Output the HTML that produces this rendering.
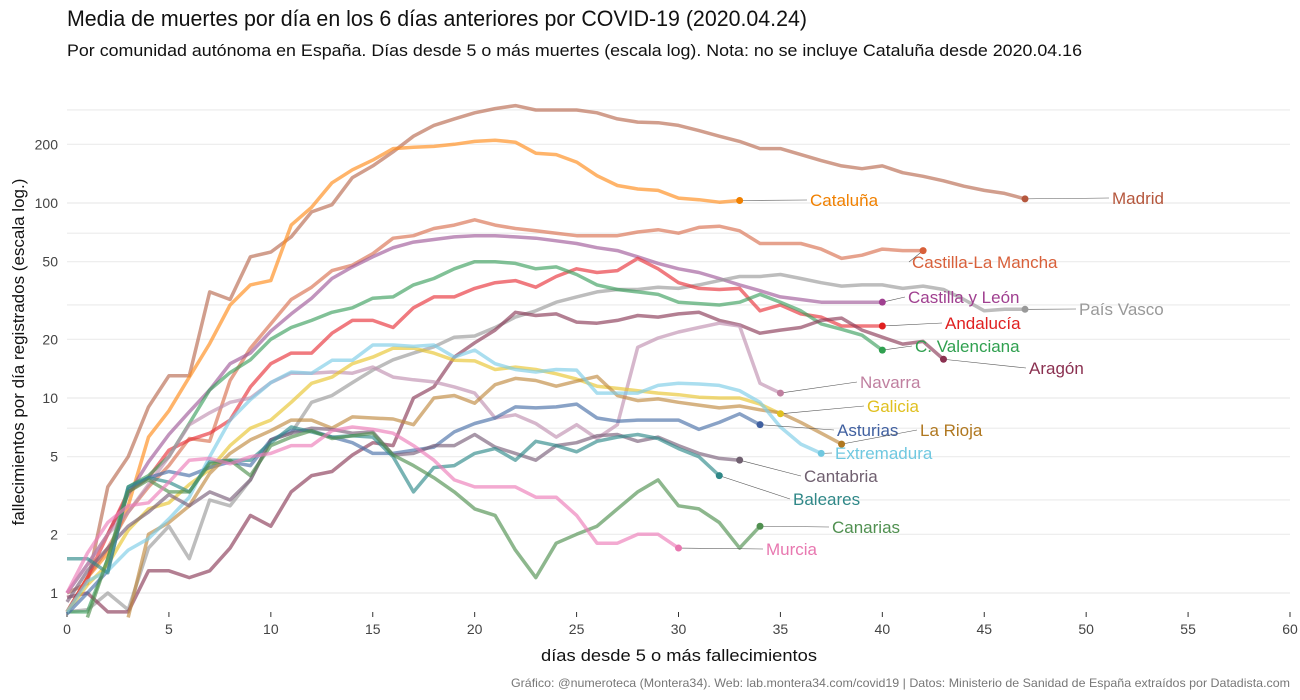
<!DOCTYPE html>
<html><head><meta charset="utf-8"><style>
body{margin:0;background:#fff;}
svg{display:block;font-family:"Liberation Sans Narrow","Liberation Sans",sans-serif;}
</style></head><body>
<svg id="chart" width="1300" height="700" xmlns="http://www.w3.org/2000/svg">
<text x="67" y="26" font-size="22" fill="#111" textLength="740" lengthAdjust="spacingAndGlyphs">Media de muertes por día en los 6 días anteriores por COVID-19 (2020.04.24)</text>
<text x="67" y="56" font-size="17" fill="#111" textLength="1015" lengthAdjust="spacingAndGlyphs">Por comunidad autónoma en España. Días desde 5 o más muertes (escala log). Nota: no se incluye Cataluña desde 2020.04.16</text>
<g id="grid"></g>
<g id="series"></g>
<g id="labels"></g>
<text transform="translate(24,352) rotate(-90)" text-anchor="middle" font-size="17" fill="#111">fallecimientos por día registrados (escala log.)</text>
<text x="541" y="661" font-size="17" fill="#111" textLength="276" lengthAdjust="spacingAndGlyphs">días desde 5 o más fallecimientos</text>
<text x="511" y="687" font-size="12" fill="#777" textLength="779" lengthAdjust="spacingAndGlyphs">Gráfico: @numeroteca (Montera34). Web: lab.montera34.com/covid19 | Datos: Ministerio de Sanidad de España extraídos por Datadista.com</text>
</svg>
<script>
const xTicks=[0,5,10,15,20,25,30,35,40,45,50,55,60];
const yTicks=[1,2,5,10,20,50,100,200];
const yGrid=[1,2,3,5,7,10,20,30,50,70,100,200,300];
const names=["Madrid","Cataluña","Castilla-La Mancha","Castilla y León","País Vasco","Andalucía","C. Valenciana","Aragón","Navarra","Galicia","Asturias","La Rioja","Extremadura","Cantabria","Baleares","Canarias","Murcia"];
const colors=["#b86a50","#ff8c1a","#d87050","#a05a9a","#999999","#e8333a","#3ea060","#8a3a58","#c090b0","#e8c430","#4a70a8","#c08a40","#7ccde6","#7a607a","#2f8a8a","#509050","#ec7cb8"];
const labelColors=["#b5573d","#f08000","#d8603a","#a04090","#999999","#e02020","#30a050","#8a3050","#c080a0","#e0c020","#4060a0","#b07820","#70c8e0","#706070","#308888","#509050","#e878b0"];
const labelPos=[[1112,198],[810,200],[912,262],[908,297],[1079,309],[945,323],[915,346],[1029,368],[860,382],[867,406],[837,430],[920,430],[835,453],[804,476],[793,499],[832,527],[766,549]];
const sMadrid=[1,1.12,3.5,5,9,13,13,35,32,53,56,67,90,98,135,155,183,220,250,270,290,305,316,300,300,300,290,270,260,258,250,235,220,207,190,190,177,165,155,150,155,143,137,130,122,116,112,105];
const sCataluna=[0.8,1.2,1.6,2.8,6.3,8.6,12.8,19,30,38,40,77,95,127,148,166,190,193,195,200,207,210,205,180,177,162,138,123,118,116,106,104,101,103];
const sCLM=[0.8,1.2,1.7,2.6,3.5,4.5,6.2,6,12.3,18,24,32,37,45,48,55,66,68,74,77,82,77,74,72,70,68,68,68,71,73,70,75,76,72,62,62,62,58,52,54,58,57,57];
const sCyL=[1,1.4,2,3.2,4.7,6.5,8.5,11,15,17,22,27,32.5,41,47,53,59,63,65,67,68,68,67,66,64,62,59,57,53,49,46,44,41,38,35.5,33,32,31,31,31,31];
const sPV=[0.8,0.82,1,0.82,1.7,2.2,1.5,3,2.8,3.8,6.1,6.6,9.5,10.3,12,13.9,15.7,17,18.3,20.5,20.8,23,26,28,31,33,35,36,36,37,36.5,38,40,42,42,43,41,39,37.5,38,38,36.5,37.5,36,32,28,28.5,28.5];
const sAnd=[0.8,1.2,2,3.3,3.9,5.4,6.1,6.6,7.7,11.4,15,17,17,21.5,25,25,23,29,33,33,36.5,39,40,37,42,46,44,45,52,46,39,36.5,36,36.5,28,30,27,26,23.4,23.4,23.4];
const sCV=[0.8,0.8,1.5,3.5,4,5,7.4,11,13.5,15.7,20,23,25,27.5,29,32.5,33,38,41,46,50,50,49,46,47,43,38,36,35,34,31,30.5,30,31,34,31,28,24,22.5,21,17.6];
const sAragon=[0.95,1,0.8,0.8,1.3,1.3,1.2,1.3,1.7,2.5,2.2,3.3,4,4.2,5.1,5.9,5.7,10,11.4,16.2,19.2,22.3,27.5,26.5,27,24.5,24.2,25,26.5,26,27,27.5,25,23.7,21.5,22.3,23,25,25.7,22.3,20.5,18.9,19.5,15.8];
const sNavarra=[1,1.4,2,2.6,3.6,5,7.3,8.4,9.5,10,12,13.4,13.4,13.6,13.4,14.4,12.8,12.4,12.1,11.4,10.6,7.9,8.2,7.4,6.3,7.3,6.2,7.3,18.2,20.3,21.8,23,24.2,23.4,11.9,10.6];
const sGalicia=[0.8,1.1,1.4,2.1,2.7,2.9,3.6,4.3,5.7,7,7.7,9.5,11.9,12.8,15,16.2,18,18,17,15.6,15.5,14,14.4,14,13.3,12.5,11.5,11.2,10.9,10.6,10.4,10.1,10,10,9.3,8.3];
const sAsturias=[0.78,1,1.3,3.4,3.9,4.2,4,4.4,4.7,4.5,6.1,6.8,6.8,6.3,5.9,5.2,5.2,5.4,5.6,6.7,7.4,7.9,9,8.9,9,9.3,7.9,7.6,7.7,7.7,7.7,6.9,7.5,8.3,7.3];
const sRioja=[null,null,null,0.75,2,2.3,2.8,4.1,5.2,6.1,6.8,7.7,7.7,7,8,7.9,7.8,7.3,10,10.3,9.4,11.7,12.6,12.3,11.5,12.2,12.9,10.3,9.7,9.9,9.5,9.2,8.9,9.1,8.7,8.4,7.5,6.6,5.8];
const sExtrem=[0.8,1.15,1.3,1.66,1.9,2.4,3.1,5,7.7,9.8,12,13.6,13.4,15.6,15.6,18.7,18.7,18.4,18.7,16.2,17.6,15,14,13.6,14,13.9,10.6,10.6,10.6,11.6,11.9,11.8,11.6,10.9,9.5,7.1,5.8,5.2];
const sCantabria=[0.9,1.3,1.7,2.2,2.6,3.2,2.8,3.3,3,3.8,6.1,6.6,7,6.9,6.6,6.7,5.1,5.2,5.7,5.7,6.5,5.6,5.2,4.8,5.7,5.9,6.4,6.5,6,6.3,5.7,5.2,4.9,4.8];
const sBaleares=[1.5,1.5,1.27,3.5,3.9,3.7,3.3,4.7,4.8,4.8,5.9,7.1,6.7,6.3,6.4,6.3,5,3.3,4.4,4.5,5.2,5.5,4.8,6,5.7,5.3,6,6.3,6.5,6.2,5.5,5,4];
const sCanarias=[null,0.75,1.5,3.3,3.8,3.3,3.3,4.6,4.8,4,5.7,6.3,6.8,6.2,6.4,6.6,5.1,4.5,3.9,3.3,2.7,2.5,1.66,1.2,1.8,2,2.2,2.7,3.3,3.8,2.8,2.7,2.3,1.7,2.2];
const sMurcia=[1,1.6,2.3,2.8,2.9,3.7,4.8,4.9,4.6,5,5.2,5.7,5.7,6.8,7.1,6.9,6.6,5.7,4.8,3.8,3.5,3.5,3.5,3.1,3.1,2.5,1.8,1.8,2,2,1.7];
const series=[sMadrid,sCataluna,sCLM,sCyL,sPV,sAnd,sCV,sAragon,sNavarra,sGalicia,sAsturias,sRioja,sExtrem,sCantabria,sBaleares,sCanarias,sMurcia];

const X0=67,X1=1290,PT=90,PB=612,Y1PX=593,DEC=195;
const x=d=>X0+(X1-X0)*d/60;
const y=v=>Y1PX-DEC*Math.log10(v);
const NS="http://www.w3.org/2000/svg";
function mk(t,a,p){const e=document.createElementNS(NS,t);for(const k in a)e.setAttribute(k,a[k]);p.appendChild(e);return e;}
const grid=document.getElementById('grid');
yGrid.forEach(v=>{const l=mk('line',{x1:X0,x2:X1,y1:y(v),y2:y(v),stroke:'#ebebeb','stroke-width':1.2},grid);

});
yTicks.forEach(v=>{const t=mk('text',{x:58,y:y(v)+5,'text-anchor':'end','font-size':14,fill:'#444'},grid);t.textContent=v;

});
xTicks.forEach(d=>{const tk=mk('line',{x1:x(d),x2:x(d),y1:PB,y2:PB+5,stroke:'#333'},grid);


const t=mk('text',{x:x(d),y:PB+22,'text-anchor':'middle','font-size':14,fill:'#444'},grid);t.textContent=d;

});
const sg=document.getElementById('series'),lg=document.getElementById('labels');
series.forEach((s,i)=>{let dstr='';let started=false;let last=null;
s.forEach((v,d)=>{if(v==null)return;dstr+=(started?'L':'M')+x(d).toFixed(1)+','+Math.min(y(v),PB+6).toFixed(1);started=true;last=[d,v];});
const p=mk('path',{d:dstr,fill:'none',stroke:colors[i],'stroke-width':3.5,'stroke-opacity':0.65,'stroke-linejoin':'round'},sg);


const lx=x(last[0]),ly=y(last[1]);const [tx,ty]=labelPos[i];
const ln=mk('line',{x1:lx,y1:ly,x2:tx-3,y2:ty,stroke:'#555','stroke-width':0.6},lg);


const c=mk('circle',{cx:lx,cy:ly,r:3.5,fill:labelColors[i]},lg);


const t=mk('text',{x:tx,y:ty+6,'font-size':17,fill:labelColors[i]},lg);t.textContent=names[i];


});
</script>
</body></html>
